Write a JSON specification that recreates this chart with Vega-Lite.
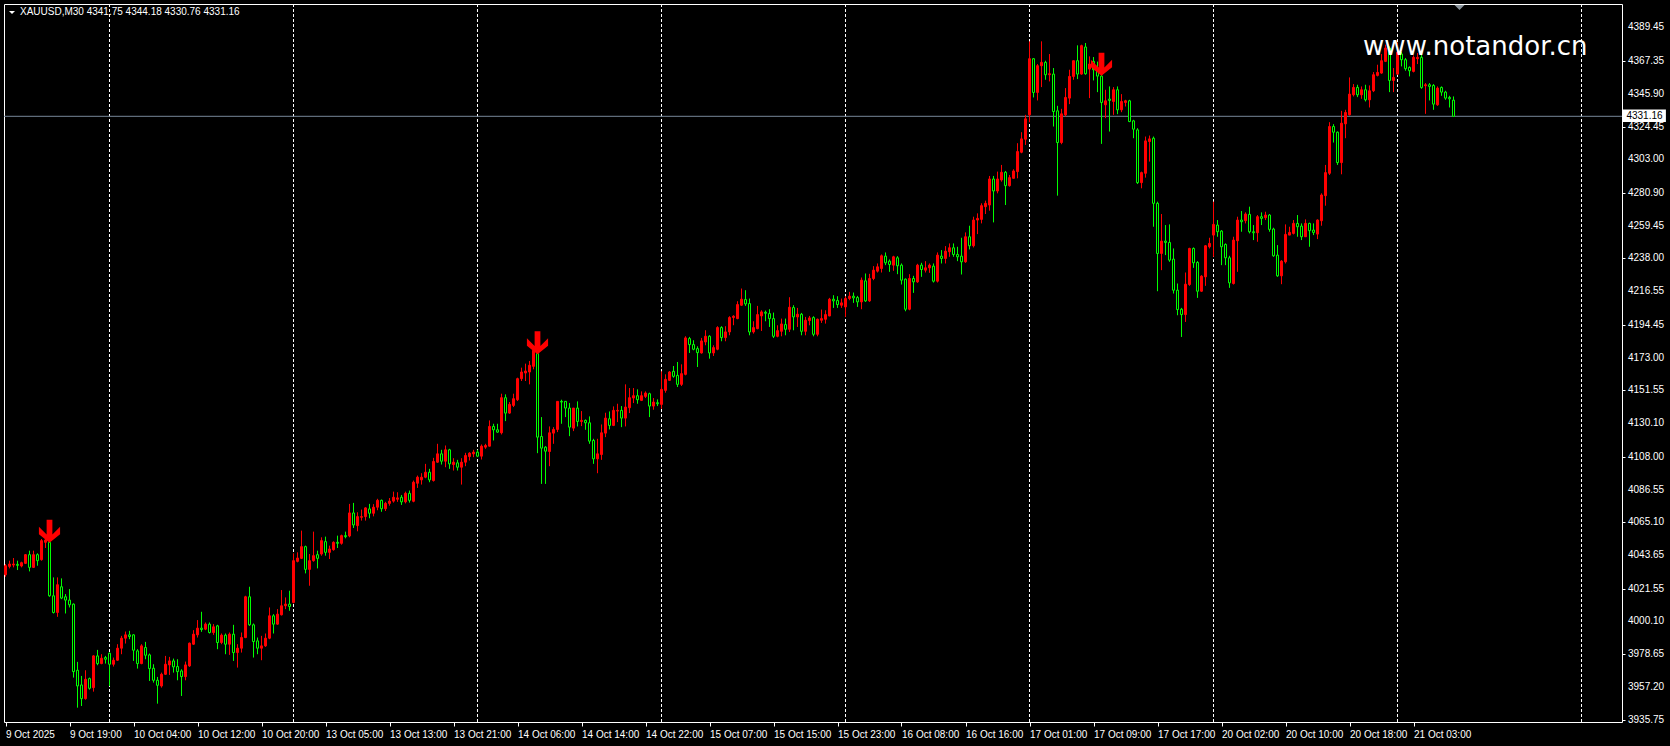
{
"$schema": "https://vega.github.io/schema/vega-lite/v6.json",
"width": 1618, "height": 718,
"autosize": {"type": "none"},
"padding": {"left": 4, "top": 4, "right": 48, "bottom": 24},
"background": "#000000",
"config": {
"view": {"stroke": "#ffffff", "strokeWidth": 1},
"scale": {"continuousPadding": 0},
"axis": {"labelColor": "#ffffff", "labelFont": "Liberation Sans", "labelFontSize": 10, "tickColor": "#ffffff", "domain": false, "grid": false,
"labelOverlap": false, "labelBound": false, "labelFlush": false, "title": null}
},
"datasets": {
"days": [{"d":26},{"d":72},{"d":118},{"d":164},{"d":210},{"d":256},{"d":302},{"d":348},{"d":394}],
"yt": [{"v":3935.75},{"v":3957.20},{"v":3978.65},{"v":4000.10},{"v":4021.55},{"v":4043.65},{"v":4065.10},{"v":4086.55},{"v":4108.00},{"v":4130.10},{"v":4151.55},{"v":4173.00},{"v":4194.45},{"v":4216.55},{"v":4238.00},{"v":4259.45},{"v":4280.90},{"v":4303.00},{"v":4324.45},{"v":4345.90},{"v":4367.35},{"v":4389.45}],
"sig": [{"i":11,"p":4059.2},{"i":133,"p":4182.7},{"i":274,"p":4365.2}],
"bars": [
{"i":0,"o":4030.75,"h":4037.76,"l":4029.44,"c":4036.66},
{"i":1,"o":4036.23,"h":4039.95,"l":4034.91,"c":4037.76},
{"i":2,"o":4037.10,"h":4041.70,"l":4035.57,"c":4037.76},
{"i":3,"o":4037.54,"h":4039.95,"l":4033.82,"c":4036.88},
{"i":4,"o":4036.45,"h":4039.29,"l":4035.57,"c":4038.63},
{"i":5,"o":4038.20,"h":4044.33,"l":4037.76,"c":4043.89},
{"i":6,"o":4043.89,"h":4046.51,"l":4032.94,"c":4035.57},
{"i":7,"o":4035.57,"h":4046.51,"l":4035.13,"c":4043.89},
{"i":8,"o":4043.89,"h":4044.76,"l":4036.66,"c":4039.95},
{"i":9,"o":4040.60,"h":4054.17,"l":4039.95,"c":4053.08},
{"i":10,"o":4051.99,"h":4054.61,"l":4048.27,"c":4053.52},
{"i":11,"o":4051.99,"h":4053.50,"l":4016.30,"c":4016.96},
{"i":12,"o":4016.96,"h":4029.00,"l":4005.36,"c":4006.02},
{"i":13,"o":4006.02,"h":4029.00,"l":4003.17,"c":4024.19},
{"i":14,"o":4022.87,"h":4028.35,"l":4014.77,"c":4015.43},
{"i":15,"o":4016.30,"h":4018.06,"l":4005.36,"c":4014.12},
{"i":16,"o":4014.12,"h":4021.34,"l":4009.30,"c":4011.05},
{"i":17,"o":4011.49,"h":4011.93,"l":3963.33,"c":3967.27},
{"i":18,"o":3968.15,"h":3973.62,"l":3943.63,"c":3957.86},
{"i":19,"o":3958.52,"h":3964.43,"l":3944.72,"c":3949.54},
{"i":20,"o":3949.54,"h":3968.15,"l":3948.88,"c":3962.24},
{"i":21,"o":3962.68,"h":3963.33,"l":3955.45,"c":3956.33},
{"i":22,"o":3956.77,"h":3978.00,"l":3954.14,"c":3977.56},
{"i":23,"o":3977.56,"h":3981.50,"l":3971.43,"c":3972.53},
{"i":24,"o":3972.53,"h":3978.66,"l":3972.09,"c":3976.03},
{"i":25,"o":3976.47,"h":3977.56,"l":3972.53,"c":3975.38},
{"i":26,"o":3979.31,"h":3979.75,"l":3957.86,"c":3972.09},
{"i":27,"o":3972.09,"h":3976.47,"l":3970.56,"c":3974.72},
{"i":28,"o":3974.72,"h":3985.22,"l":3974.28,"c":3982.60},
{"i":29,"o":3982.60,"h":3990.69,"l":3978.66,"c":3989.16},
{"i":30,"o":3989.16,"h":3993.54,"l":3985.66,"c":3991.35},
{"i":31,"o":3991.35,"h":3993.98,"l":3988.51,"c":3990.26},
{"i":32,"o":3991.35,"h":3991.79,"l":3974.28,"c":3981.28},
{"i":33,"o":3980.84,"h":3981.94,"l":3969.24,"c":3972.53},
{"i":34,"o":3972.53,"h":3985.22,"l":3972.09,"c":3984.13},
{"i":35,"o":3983.03,"h":3986.75,"l":3975.38,"c":3978.00},
{"i":36,"o":3978.22,"h":3979.09,"l":3961.14,"c":3969.24},
{"i":37,"o":3969.46,"h":3972.09,"l":3960.05,"c":3961.58},
{"i":38,"o":3961.58,"h":3963.77,"l":3946.26,"c":3958.30},
{"i":39,"o":3957.86,"h":3966.61,"l":3956.77,"c":3965.52},
{"i":40,"o":3965.52,"h":3977.56,"l":3965.08,"c":3972.09},
{"i":41,"o":3971.65,"h":3976.90,"l":3965.08,"c":3974.28},
{"i":42,"o":3974.28,"h":3975.81,"l":3966.61,"c":3970.34},
{"i":43,"o":3970.56,"h":3975.38,"l":3961.58,"c":3967.27},
{"i":44,"o":3967.71,"h":3968.80,"l":3951.29,"c":3963.99},
{"i":45,"o":3963.99,"h":3973.84,"l":3961.58,"c":3971.65},
{"i":46,"o":3971.00,"h":3986.32,"l":3970.34,"c":3985.88},
{"i":47,"o":3985.22,"h":3994.42,"l":3984.78,"c":3991.79},
{"i":48,"o":3991.35,"h":4001.02,"l":3989.60,"c":3995.73},
{"i":49,"o":3995.73,"h":4006.46,"l":3993.32,"c":3994.85},
{"i":50,"o":3995.07,"h":3999.45,"l":3994.42,"c":3998.36},
{"i":51,"o":3998.36,"h":3999.45,"l":3992.23,"c":3992.88},
{"i":52,"o":3992.88,"h":3998.36,"l":3991.35,"c":3996.60},
{"i":53,"o":3997.26,"h":3997.92,"l":3981.94,"c":3986.32},
{"i":54,"o":3986.32,"h":3992.23,"l":3985.22,"c":3991.13},
{"i":55,"o":3991.13,"h":3992.23,"l":3978.66,"c":3985.22},
{"i":56,"o":3985.22,"h":3992.88,"l":3978.22,"c":3991.79},
{"i":57,"o":3991.79,"h":3997.92,"l":3974.28,"c":3979.75},
{"i":58,"o":3979.75,"h":3985.22,"l":3969.90,"c":3982.60},
{"i":59,"o":3982.60,"h":3992.88,"l":3979.75,"c":3989.60},
{"i":60,"o":3989.60,"h":4016.96,"l":3989.16,"c":4016.30},
{"i":61,"o":4016.30,"h":4022.87,"l":3997.26,"c":3997.92},
{"i":62,"o":3997.92,"h":3998.79,"l":3976.47,"c":3986.97},
{"i":63,"o":3987.41,"h":3989.60,"l":3978.66,"c":3982.60},
{"i":64,"o":3982.60,"h":3990.69,"l":3974.72,"c":3984.13},
{"i":65,"o":3984.13,"h":3992.23,"l":3983.47,"c":3989.16},
{"i":66,"o":3989.16,"h":4009.30,"l":3988.51,"c":4003.83},
{"i":67,"o":4003.83,"h":4004.92,"l":3992.23,"c":3998.36},
{"i":68,"o":3998.36,"h":4008.21,"l":3997.92,"c":4004.92},
{"i":69,"o":4004.49,"h":4020.69,"l":4004.05,"c":4010.39},
{"i":70,"o":4010.39,"h":4015.87,"l":4008.21,"c":4011.49},
{"i":71,"o":4011.49,"h":4020.25,"l":4007.11,"c":4009.96},
{"i":72,"o":4012.58,"h":4044.76,"l":4011.93,"c":4039.95},
{"i":73,"o":4039.51,"h":4045.42,"l":4038.85,"c":4041.70},
{"i":74,"o":4041.48,"h":4059.65,"l":4041.04,"c":4049.14},
{"i":75,"o":4049.14,"h":4049.80,"l":4031.63,"c":4034.26},
{"i":76,"o":4034.26,"h":4044.33,"l":4023.53,"c":4039.95},
{"i":77,"o":4039.95,"h":4058.99,"l":4039.29,"c":4043.23},
{"i":78,"o":4043.89,"h":4046.51,"l":4034.91,"c":4041.48},
{"i":79,"o":4044.33,"h":4055.27,"l":4043.23,"c":4053.08},
{"i":80,"o":4052.43,"h":4055.71,"l":4043.23,"c":4045.42},
{"i":81,"o":4045.42,"h":4049.80,"l":4041.04,"c":4047.61},
{"i":82,"o":4047.17,"h":4052.64,"l":4046.51,"c":4051.99},
{"i":83,"o":4051.99,"h":4056.36,"l":4048.27,"c":4051.33},
{"i":84,"o":4051.33,"h":4057.02,"l":4050.45,"c":4056.36},
{"i":85,"o":4056.36,"h":4058.99,"l":4054.61,"c":4055.71},
{"i":86,"o":4056.15,"h":4077.16,"l":4055.27,"c":4071.25},
{"i":87,"o":4071.25,"h":4077.82,"l":4061.40,"c":4063.37},
{"i":88,"o":4062.93,"h":4071.69,"l":4059.21,"c":4068.84},
{"i":89,"o":4068.40,"h":4073.44,"l":4066.22,"c":4068.84},
{"i":90,"o":4068.84,"h":4074.97,"l":4066.22,"c":4074.53},
{"i":91,"o":4073.88,"h":4077.16,"l":4067.75,"c":4071.03},
{"i":92,"o":4071.03,"h":4077.00,"l":4069.00,"c":4075.00},
{"i":93,"o":4075.00,"h":4080.50,"l":4073.00,"c":4079.50},
{"i":94,"o":4079.50,"h":4080.00,"l":4072.00,"c":4074.00},
{"i":95,"o":4074.00,"h":4078.50,"l":4072.50,"c":4077.50},
{"i":96,"o":4077.50,"h":4081.00,"l":4076.00,"c":4079.00},
{"i":97,"o":4079.00,"h":4085.20,"l":4078.00,"c":4081.50},
{"i":98,"o":4080.20,"h":4084.80,"l":4078.50,"c":4081.10},
{"i":99,"o":4081.50,"h":4083.00,"l":4076.50,"c":4078.50},
{"i":100,"o":4078.50,"h":4085.20,"l":4077.50,"c":4084.10},
{"i":101,"o":4084.10,"h":4085.90,"l":4078.00,"c":4079.50},
{"i":102,"o":4078.89,"h":4092.46,"l":4078.23,"c":4091.36},
{"i":103,"o":4090.70,"h":4095.74,"l":4087.64,"c":4094.65},
{"i":104,"o":4092.90,"h":4097.27,"l":4089.83,"c":4094.65},
{"i":105,"o":4094.65,"h":4103.40,"l":4093.99,"c":4097.93},
{"i":106,"o":4097.93,"h":4100.12,"l":4091.36,"c":4092.90},
{"i":107,"o":4092.46,"h":4107.34,"l":4091.80,"c":4104.93},
{"i":108,"o":4104.50,"h":4116.54,"l":4104.06,"c":4109.97},
{"i":109,"o":4109.97,"h":4112.60,"l":4102.97,"c":4105.15},
{"i":110,"o":4105.15,"h":4115.44,"l":4101.21,"c":4112.60},
{"i":111,"o":4112.60,"h":4113.25,"l":4100.12,"c":4103.40},
{"i":112,"o":4102.97,"h":4107.12,"l":4099.02,"c":4104.50},
{"i":113,"o":4104.06,"h":4106.03,"l":4099.02,"c":4101.21},
{"i":114,"o":4101.21,"h":4107.12,"l":4089.83,"c":4104.50},
{"i":115,"o":4104.50,"h":4110.63,"l":4101.87,"c":4108.88},
{"i":116,"o":4108.22,"h":4111.07,"l":4105.59,"c":4110.41},
{"i":117,"o":4109.97,"h":4112.60,"l":4107.78,"c":4111.07},
{"i":118,"o":4111.07,"h":4112.60,"l":4107.78,"c":4108.44},
{"i":119,"o":4108.44,"h":4116.10,"l":4106.25,"c":4115.00},
{"i":120,"o":4114.35,"h":4116.54,"l":4113.25,"c":4115.44},
{"i":121,"o":4115.00,"h":4131.86,"l":4114.78,"c":4127.92},
{"i":122,"o":4127.92,"h":4129.67,"l":4118.73,"c":4125.73},
{"i":123,"o":4125.73,"h":4129.67,"l":4123.76,"c":4124.20},
{"i":124,"o":4123.76,"h":4149.37,"l":4122.67,"c":4146.75},
{"i":125,"o":4146.75,"h":4148.94,"l":4131.42,"c":4136.67},
{"i":126,"o":4136.67,"h":4143.90,"l":4136.24,"c":4142.37},
{"i":127,"o":4141.71,"h":4149.37,"l":4140.62,"c":4146.09},
{"i":128,"o":4145.43,"h":4159.88,"l":4144.56,"c":4159.22},
{"i":129,"o":4159.22,"h":4166.45,"l":4157.69,"c":4163.60},
{"i":130,"o":4162.94,"h":4169.07,"l":4157.69,"c":4164.26},
{"i":131,"o":4163.60,"h":4170.82,"l":4155.50,"c":4167.98},
{"i":132,"o":4167.32,"h":4178.92,"l":4165.35,"c":4177.83},
{"i":133,"o":4175.64,"h":4177.83,"l":4110.41,"c":4120.91},
{"i":134,"o":4121.35,"h":4134.05,"l":4090.27,"c":4113.69},
{"i":135,"o":4114.35,"h":4115.00,"l":4090.27,"c":4111.72},
{"i":136,"o":4111.50,"h":4127.92,"l":4101.87,"c":4123.76},
{"i":137,"o":4123.54,"h":4127.48,"l":4116.54,"c":4125.95},
{"i":138,"o":4125.95,"h":4144.34,"l":4124.20,"c":4144.34},
{"i":139,"o":4144.34,"h":4145.43,"l":4129.67,"c":4143.90},
{"i":140,"o":4144.34,"h":4144.34,"l":4134.05,"c":4139.96},
{"i":141,"o":4139.96,"h":4143.24,"l":4121.57,"c":4127.48},
{"i":142,"o":4126.83,"h":4139.96,"l":4124.86,"c":4139.96},
{"i":143,"o":4139.96,"h":4144.34,"l":4127.92,"c":4131.20},
{"i":144,"o":4131.20,"h":4137.99,"l":4128.14,"c":4131.86},
{"i":145,"o":4131.86,"h":4132.52,"l":4125.73,"c":4130.33},
{"i":146,"o":4130.33,"h":4134.49,"l":4116.54,"c":4118.29},
{"i":147,"o":4118.73,"h":4119.82,"l":4103.40,"c":4106.69},
{"i":148,"o":4106.69,"h":4119.82,"l":4097.27,"c":4109.97},
{"i":149,"o":4109.53,"h":4129.23,"l":4106.03,"c":4123.76},
{"i":150,"o":4123.54,"h":4136.89,"l":4120.91,"c":4133.39},
{"i":151,"o":4132.95,"h":4137.77,"l":4125.95,"c":4128.58},
{"i":152,"o":4128.58,"h":4141.05,"l":4128.14,"c":4138.43},
{"i":153,"o":4137.99,"h":4142.80,"l":4130.77,"c":4138.43},
{"i":154,"o":4138.43,"h":4141.27,"l":4127.48,"c":4133.39},
{"i":155,"o":4133.39,"h":4155.50,"l":4127.92,"c":4140.62},
{"i":156,"o":4140.18,"h":4153.09,"l":4136.67,"c":4146.75},
{"i":157,"o":4146.53,"h":4153.09,"l":4143.24,"c":4148.06},
{"i":158,"o":4148.06,"h":4152.22,"l":4142.80,"c":4145.43},
{"i":159,"o":4145.00,"h":4150.90,"l":4144.56,"c":4148.06},
{"i":160,"o":4147.62,"h":4150.90,"l":4146.53,"c":4149.81},
{"i":161,"o":4149.37,"h":4150.03,"l":4134.05,"c":4141.27},
{"i":162,"o":4141.27,"h":4146.53,"l":4138.87,"c":4143.90},
{"i":163,"o":4143.46,"h":4145.65,"l":4141.27,"c":4142.80},
{"i":164,"o":4142.37,"h":4164.04,"l":4139.52,"c":4152.22},
{"i":165,"o":4151.56,"h":4162.07,"l":4150.03,"c":4158.78},
{"i":166,"o":4158.13,"h":4164.26,"l":4157.69,"c":4163.60},
{"i":167,"o":4164.04,"h":4167.54,"l":4159.88,"c":4160.76},
{"i":168,"o":4161.41,"h":4170.17,"l":4153.75,"c":4155.50},
{"i":169,"o":4155.50,"h":4168.63,"l":4154.41,"c":4162.51},
{"i":170,"o":4162.07,"h":4187.02,"l":4161.41,"c":4185.93},
{"i":171,"o":4185.49,"h":4186.58,"l":4176.08,"c":4181.55},
{"i":172,"o":4181.55,"h":4184.40,"l":4177.83,"c":4178.49},
{"i":173,"o":4178.92,"h":4180.45,"l":4166.88,"c":4176.30},
{"i":174,"o":4176.08,"h":4185.93,"l":4175.64,"c":4183.96},
{"i":175,"o":4183.30,"h":4190.96,"l":4181.11,"c":4187.02},
{"i":176,"o":4187.02,"h":4187.68,"l":4172.35,"c":4176.08},
{"i":177,"o":4176.08,"h":4181.11,"l":4174.11,"c":4179.58},
{"i":178,"o":4178.49,"h":4193.59,"l":4177.83,"c":4192.71},
{"i":179,"o":4192.71,"h":4193.59,"l":4183.74,"c":4186.15},
{"i":180,"o":4186.15,"h":4193.59,"l":4183.74,"c":4189.87},
{"i":181,"o":4189.87,"h":4200.16,"l":4187.68,"c":4199.28},
{"i":182,"o":4199.28,"h":4200.81,"l":4194.25,"c":4200.16},
{"i":183,"o":4198.59,"h":4209.98,"l":4198.16,"c":4207.79},
{"i":184,"o":4207.35,"h":4218.30,"l":4206.91,"c":4211.29},
{"i":185,"o":4211.07,"h":4217.20,"l":4206.91,"c":4208.23},
{"i":186,"o":4208.45,"h":4211.73,"l":4187.65,"c":4189.84},
{"i":187,"o":4189.84,"h":4196.84,"l":4188.75,"c":4192.69},
{"i":188,"o":4192.03,"h":4206.91,"l":4191.59,"c":4201.22},
{"i":189,"o":4200.34,"h":4204.07,"l":4190.50,"c":4202.97},
{"i":190,"o":4202.75,"h":4203.85,"l":4196.84,"c":4202.10},
{"i":191,"o":4201.88,"h":4204.73,"l":4193.12,"c":4198.59},
{"i":192,"o":4198.59,"h":4202.53,"l":4185.90,"c":4186.99},
{"i":193,"o":4186.99,"h":4194.22,"l":4186.33,"c":4190.71},
{"i":194,"o":4190.28,"h":4198.59,"l":4186.99,"c":4195.09},
{"i":195,"o":4194.65,"h":4198.59,"l":4187.65,"c":4191.59},
{"i":196,"o":4191.59,"h":4212.60,"l":4189.84,"c":4206.04},
{"i":197,"o":4205.82,"h":4207.35,"l":4190.93,"c":4199.69},
{"i":198,"o":4199.69,"h":4205.60,"l":4193.12,"c":4201.44},
{"i":199,"o":4201.44,"h":4202.31,"l":4187.65,"c":4190.28},
{"i":200,"o":4190.28,"h":4199.69,"l":4187.65,"c":4197.50},
{"i":201,"o":4197.28,"h":4200.34,"l":4194.22,"c":4199.03},
{"i":202,"o":4199.25,"h":4200.12,"l":4186.99,"c":4188.31},
{"i":203,"o":4188.31,"h":4198.59,"l":4186.99,"c":4198.16},
{"i":204,"o":4197.50,"h":4204.51,"l":4195.75,"c":4198.59},
{"i":205,"o":4198.16,"h":4204.07,"l":4195.31,"c":4201.22},
{"i":206,"o":4200.34,"h":4212.17,"l":4200.12,"c":4211.29},
{"i":207,"o":4211.29,"h":4213.92,"l":4205.60,"c":4210.20},
{"i":208,"o":4210.42,"h":4213.26,"l":4205.60,"c":4207.79},
{"i":209,"o":4207.35,"h":4211.73,"l":4205.60,"c":4208.89},
{"i":210,"o":4206.26,"h":4213.26,"l":4199.69,"c":4211.73},
{"i":211,"o":4211.73,"h":4216.11,"l":4210.63,"c":4213.26},
{"i":212,"o":4213.26,"h":4215.67,"l":4208.89,"c":4212.17},
{"i":213,"o":4212.39,"h":4213.48,"l":4206.26,"c":4209.54},
{"i":214,"o":4209.54,"h":4225.52,"l":4204.73,"c":4223.77},
{"i":215,"o":4223.33,"h":4228.15,"l":4209.54,"c":4210.20},
{"i":216,"o":4210.20,"h":4227.93,"l":4209.54,"c":4224.86},
{"i":217,"o":4224.86,"h":4232.96,"l":4223.77,"c":4230.33},
{"i":218,"o":4229.68,"h":4234.71,"l":4228.80,"c":4232.52},
{"i":219,"o":4231.43,"h":4240.62,"l":4228.80,"c":4239.75},
{"i":220,"o":4239.53,"h":4241.94,"l":4233.62,"c":4235.15},
{"i":221,"o":4236.24,"h":4237.34,"l":4229.24,"c":4234.06},
{"i":222,"o":4233.62,"h":4239.75,"l":4229.90,"c":4239.09},
{"i":223,"o":4238.43,"h":4239.53,"l":4227.71,"c":4233.19},
{"i":224,"o":4233.62,"h":4234.71,"l":4220.92,"c":4223.77},
{"i":225,"o":4224.43,"h":4224.86,"l":4203.41,"c":4204.73},
{"i":226,"o":4204.73,"h":4227.71,"l":4204.07,"c":4224.86},
{"i":227,"o":4224.86,"h":4226.61,"l":4215.45,"c":4222.67},
{"i":228,"o":4222.67,"h":4234.49,"l":4222.01,"c":4233.62},
{"i":229,"o":4233.62,"h":4235.15,"l":4225.96,"c":4230.77},
{"i":230,"o":4230.33,"h":4236.24,"l":4228.80,"c":4231.87},
{"i":231,"o":4231.87,"h":4234.71,"l":4228.58,"c":4233.62},
{"i":232,"o":4232.96,"h":4234.71,"l":4222.24,"c":4223.11},
{"i":233,"o":4223.11,"h":4241.94,"l":4222.24,"c":4240.19},
{"i":234,"o":4239.53,"h":4243.47,"l":4234.71,"c":4238.00},
{"i":235,"o":4238.00,"h":4246.10,"l":4234.71,"c":4242.81},
{"i":236,"o":4242.37,"h":4247.85,"l":4239.09,"c":4245.00},
{"i":237,"o":4245.00,"h":4247.85,"l":4239.09,"c":4240.62},
{"i":238,"o":4240.62,"h":4245.66,"l":4236.24,"c":4239.09},
{"i":239,"o":4239.53,"h":4251.57,"l":4227.49,"c":4235.81},
{"i":240,"o":4235.81,"h":4255.07,"l":4235.15,"c":4252.22},
{"i":241,"o":4252.22,"h":4259.45,"l":4243.91,"c":4246.32},
{"i":242,"o":4246.32,"h":4265.36,"l":4245.22,"c":4263.17},
{"i":243,"o":4263.17,"h":4267.55,"l":4253.97,"c":4264.26},
{"i":244,"o":4263.61,"h":4274.12,"l":4260.98,"c":4272.58},
{"i":245,"o":4271.93,"h":4275.87,"l":4267.11,"c":4274.12},
{"i":246,"o":4273.02,"h":4292.06,"l":4269.30,"c":4290.09},
{"i":247,"o":4290.09,"h":4292.06,"l":4261.64,"c":4282.21},
{"i":248,"o":4282.21,"h":4294.91,"l":4280.68,"c":4290.09},
{"i":249,"o":4289.44,"h":4299.29,"l":4288.34,"c":4294.47},
{"i":250,"o":4294.47,"h":4295.35,"l":4273.02,"c":4285.72},
{"i":251,"o":4285.72,"h":4292.72,"l":4285.06,"c":4290.97},
{"i":252,"o":4290.53,"h":4296.44,"l":4290.53,"c":4295.35},
{"i":253,"o":4294.91,"h":4313.52,"l":4290.53,"c":4308.05},
{"i":254,"o":4307.61,"h":4320.74,"l":4306.95,"c":4316.36},
{"i":255,"o":4316.14,"h":4332.12,"l":4312.42,"c":4329.50},
{"i":256,"o":4332.12,"h":4380.28,"l":4327.31,"c":4368.90},
{"i":257,"o":4368.90,"h":4369.34,"l":4343.51,"c":4346.79},
{"i":258,"o":4346.79,"h":4365.40,"l":4341.54,"c":4364.30},
{"i":259,"o":4364.30,"h":4380.28,"l":4350.29,"c":4366.49},
{"i":260,"o":4366.49,"h":4367.59,"l":4355.11,"c":4358.39},
{"i":261,"o":4358.39,"h":4371.96,"l":4354.01,"c":4359.05},
{"i":262,"o":4358.83,"h":4362.77,"l":4324.46,"c":4334.31},
{"i":263,"o":4334.75,"h":4338.03,"l":4279.15,"c":4313.96},
{"i":264,"o":4313.96,"h":4336.06,"l":4312.86,"c":4332.78},
{"i":265,"o":4332.12,"h":4349.64,"l":4331.03,"c":4343.51},
{"i":266,"o":4343.07,"h":4361.68,"l":4339.13,"c":4357.30},
{"i":267,"o":4357.30,"h":4367.59,"l":4355.11,"c":4367.59},
{"i":268,"o":4367.59,"h":4377.66,"l":4355.55,"c":4358.83},
{"i":269,"o":4358.83,"h":4378.09,"l":4358.39,"c":4377.44},
{"i":270,"o":4376.56,"h":4379.19,"l":4358.39,"c":4359.05},
{"i":271,"o":4362.11,"h":4370.43,"l":4343.07,"c":4365.40},
{"i":272,"o":4367.15,"h":4369.99,"l":4354.67,"c":4361.68},
{"i":273,"o":4362.00,"h":4367.00,"l":4347.00,"c":4357.50},
{"i":274,"o":4357.50,"h":4358.40,"l":4313.08,"c":4340.22},
{"i":275,"o":4338.69,"h":4348.54,"l":4329.94,"c":4341.32},
{"i":276,"o":4342.41,"h":4350.73,"l":4321.18,"c":4341.54},
{"i":277,"o":4340.88,"h":4350.29,"l":4332.12,"c":4348.54},
{"i":278,"o":4348.54,"h":4350.73,"l":4332.56,"c":4335.41},
{"i":279,"o":4335.41,"h":4345.70,"l":4333.87,"c":4340.88},
{"i":280,"o":4340.22,"h":4341.97,"l":4337.60,"c":4341.32},
{"i":281,"o":4341.32,"h":4341.97,"l":4327.31,"c":4327.75},
{"i":282,"o":4328.18,"h":4328.84,"l":4316.80,"c":4322.71},
{"i":283,"o":4322.27,"h":4323.37,"l":4286.81,"c":4287.69},
{"i":284,"o":4287.69,"h":4294.91,"l":4283.97,"c":4294.25},
{"i":285,"o":4293.82,"h":4317.90,"l":4290.97,"c":4315.05},
{"i":286,"o":4314.61,"h":4318.55,"l":4301.48,"c":4316.36},
{"i":287,"o":4316.80,"h":4317.90,"l":4258.79,"c":4274.12},
{"i":288,"o":4274.12,"h":4275.21,"l":4216.54,"c":4241.28},
{"i":289,"o":4241.28,"h":4267.11,"l":4230.34,"c":4249.38},
{"i":290,"o":4249.38,"h":4259.89,"l":4240.19,"c":4248.50},
{"i":291,"o":4248.50,"h":4260.32,"l":4235.81,"c":4236.90},
{"i":292,"o":4237.56,"h":4244.56,"l":4215.01,"c":4217.20},
{"i":293,"o":4217.20,"h":4221.58,"l":4200.79,"c":4204.51},
{"i":294,"o":4204.73,"h":4205.60,"l":4186.56,"c":4201.22},
{"i":295,"o":4201.22,"h":4228.80,"l":4196.41,"c":4221.14},
{"i":296,"o":4220.92,"h":4245.00,"l":4220.05,"c":4244.56},
{"i":297,"o":4244.56,"h":4245.22,"l":4231.87,"c":4235.15},
{"i":298,"o":4235.37,"h":4236.24,"l":4212.17,"c":4216.54},
{"i":299,"o":4216.54,"h":4227.05,"l":4216.11,"c":4226.39},
{"i":300,"o":4225.96,"h":4246.75,"l":4220.05,"c":4246.32},
{"i":301,"o":4245.66,"h":4251.57,"l":4244.56,"c":4247.85},
{"i":302,"o":4253.32,"h":4275.21,"l":4239.09,"c":4260.32},
{"i":303,"o":4259.89,"h":4263.17,"l":4252.22,"c":4255.51},
{"i":304,"o":4255.95,"h":4256.60,"l":4233.62,"c":4245.66},
{"i":305,"o":4247.19,"h":4247.85,"l":4233.62,"c":4238.43},
{"i":306,"o":4238.43,"h":4239.75,"l":4218.73,"c":4222.01},
{"i":307,"o":4221.58,"h":4252.22,"l":4220.92,"c":4250.04},
{"i":308,"o":4249.60,"h":4265.36,"l":4229.24,"c":4263.17},
{"i":309,"o":4263.17,"h":4269.08,"l":4255.51,"c":4262.08},
{"i":310,"o":4262.73,"h":4268.21,"l":4260.98,"c":4267.11},
{"i":311,"o":4266.89,"h":4271.93,"l":4254.42,"c":4255.51},
{"i":312,"o":4255.51,"h":4259.89,"l":4250.04,"c":4254.85},
{"i":313,"o":4254.85,"h":4266.45,"l":4248.94,"c":4265.36},
{"i":314,"o":4265.36,"h":4268.21,"l":4259.89,"c":4264.26},
{"i":315,"o":4264.70,"h":4268.64,"l":4263.17,"c":4266.45},
{"i":316,"o":4266.45,"h":4267.11,"l":4255.51,"c":4257.04},
{"i":317,"o":4257.26,"h":4258.13,"l":4239.09,"c":4239.75},
{"i":318,"o":4240.19,"h":4246.75,"l":4225.96,"c":4226.61},
{"i":319,"o":4226.61,"h":4236.90,"l":4221.14,"c":4236.24},
{"i":320,"o":4235.81,"h":4260.32,"l":4234.71,"c":4253.76},
{"i":321,"o":4253.32,"h":4258.79,"l":4253.32,"c":4255.07},
{"i":322,"o":4254.42,"h":4263.17,"l":4253.76,"c":4260.98},
{"i":323,"o":4260.98,"h":4266.45,"l":4252.22,"c":4258.79},
{"i":324,"o":4259.23,"h":4260.98,"l":4250.04,"c":4252.22},
{"i":325,"o":4252.22,"h":4263.61,"l":4252.22,"c":4260.98},
{"i":326,"o":4260.98,"h":4261.42,"l":4245.66,"c":4256.17},
{"i":327,"o":4256.60,"h":4260.98,"l":4253.32,"c":4255.07},
{"i":328,"o":4253.97,"h":4263.61,"l":4250.69,"c":4263.17},
{"i":329,"o":4262.73,"h":4280.68,"l":4259.45,"c":4279.59},
{"i":330,"o":4279.15,"h":4299.29,"l":4272.58,"c":4294.25},
{"i":331,"o":4293.82,"h":4327.31,"l":4292.72,"c":4324.46},
{"i":332,"o":4324.46,"h":4326.00,"l":4313.96,"c":4320.74},
{"i":333,"o":4320.74,"h":4321.18,"l":4299.29,"c":4300.82},
{"i":334,"o":4300.82,"h":4334.75,"l":4293.16,"c":4326.65},
{"i":335,"o":4326.21,"h":4335.41,"l":4316.80,"c":4333.66},
{"i":336,"o":4332.12,"h":4356.64,"l":4331.69,"c":4345.70},
{"i":337,"o":4345.26,"h":4352.26,"l":4344.16,"c":4350.07},
{"i":338,"o":4350.07,"h":4351.83,"l":4343.73,"c":4345.26},
{"i":339,"o":4345.26,"h":4350.73,"l":4342.63,"c":4348.54},
{"i":340,"o":4348.54,"h":4351.83,"l":4340.88,"c":4341.97},
{"i":341,"o":4341.97,"h":4351.39,"l":4336.94,"c":4347.88},
{"i":342,"o":4347.88,"h":4360.14,"l":4347.01,"c":4358.39},
{"i":343,"o":4357.95,"h":4364.96,"l":4357.30,"c":4359.92},
{"i":344,"o":4359.49,"h":4371.96,"l":4359.05,"c":4367.59},
{"i":345,"o":4367.15,"h":4378.09,"l":4366.71,"c":4375.90},
{"i":346,"o":4375.90,"h":4377.00,"l":4347.01,"c":4354.67},
{"i":347,"o":4354.67,"h":4362.77,"l":4347.01,"c":4356.64},
{"i":348,"o":4358.80,"h":4379.50,"l":4358.40,"c":4373.00},
{"i":349,"o":4371.96,"h":4373.28,"l":4363.86,"c":4368.24},
{"i":350,"o":4368.24,"h":4369.34,"l":4361.02,"c":4362.33},
{"i":351,"o":4363.21,"h":4363.86,"l":4357.30,"c":4361.02},
{"i":352,"o":4360.58,"h":4371.09,"l":4359.92,"c":4369.77},
{"i":353,"o":4368.90,"h":4372.62,"l":4365.40,"c":4369.77},
{"i":354,"o":4369.77,"h":4373.28,"l":4349.20,"c":4350.07},
{"i":355,"o":4351.17,"h":4352.92,"l":4332.78,"c":4351.83},
{"i":356,"o":4351.83,"h":4352.92,"l":4341.54,"c":4350.73},
{"i":357,"o":4351.39,"h":4352.26,"l":4335.41,"c":4339.13},
{"i":358,"o":4338.69,"h":4350.73,"l":4338.03,"c":4349.64},
{"i":359,"o":4350.07,"h":4350.73,"l":4344.60,"c":4347.01},
{"i":360,"o":4347.01,"h":4347.88,"l":4341.97,"c":4343.07},
{"i":361,"o":4343.51,"h":4344.60,"l":4336.94,"c":4342.63},
{"i":362,"o":4341.75,"h":4344.18,"l":4330.76,"c":4331.16}
]
},
"layer": [
{
"data": {"name": "days"},
"mark": {"type": "rule", "color": "#ffffff", "strokeWidth": 1, "strokeDash": [3, 2]},
"encoding": {
"x": {"field": "d", "type": "quantitative", "title": null,
"scale": {"domain": [-0.375, 404.125], "nice": false, "zero": false, "padding": 0},
"axis": {"values": [0,16,32,48,64,80,96,112,128,144,160,176,192,208,224,240,256,272,288,304,320,336,352],
"labelExpr": "['9 Oct 2025','9 Oct 19:00','10 Oct 04:00','10 Oct 12:00','10 Oct 20:00','13 Oct 05:00','13 Oct 13:00','13 Oct 21:00','14 Oct 06:00','14 Oct 14:00','14 Oct 22:00','15 Oct 07:00','15 Oct 15:00','15 Oct 23:00','16 Oct 08:00','16 Oct 16:00','17 Oct 01:00','17 Oct 09:00','17 Oct 17:00','20 Oct 02:00','20 Oct 10:00','20 Oct 18:00','21 Oct 03:00'][round(datum.value/16)]",
"labelAlign": "left", "labelBaseline": "top", "labelPadding": 3, "tickSize": 4, "labelOverlap": false}}
}
},
{
"data": {"values": [{}]},
"mark": {"type": "rule", "color": "#778899", "strokeWidth": 1},
"encoding": {
"y": {"datum": 4331.16, "type": "quantitative", "title": null,
"scale": {"domain": [3934.24, 4404.75], "nice": false, "zero": false, "padding": 0},
"axis": {"orient": "right", "values": [3935.75,3957.20,3978.65,4000.10,4021.55,4043.65,4065.10,4086.55,4108.00,4130.10,4151.55,4173.00,4194.45,4216.55,4238.00,4259.45,4280.90,4303.00,4324.45,4345.90,4367.35,4389.45],
"labels": false, "tickSize": 3}}
}
},
{
"data": {"name": "bars"},
"mark": {"type": "rule", "strokeWidth": 1},
"encoding": {
"x": {"field": "i", "type": "quantitative", "title": null, "scale": {"domain": [-0.375, 404.125], "nice": false, "zero": false, "padding": 0}},
"y": {"field": "l", "type": "quantitative", "title": null, "scale": {"domain": [3934.24, 4404.75], "nice": false, "zero": false, "padding": 0}},
"y2": {"field": "h"},
"stroke": {"condition": {"test": "datum.c >= datum.o", "value": "#ff0000"}, "value": "#00ff00"}
}
},
{
"data": {"name": "bars"},
"mark": {"type": "bar", "width": 2, "strokeWidth": 1},
"encoding": {
"x": {"field": "i", "type": "quantitative", "title": null, "scale": {"domain": [-0.375, 404.125], "nice": false, "zero": false, "padding": 0}},
"y": {"field": "o", "type": "quantitative", "title": null, "scale": {"domain": [3934.24, 4404.75], "nice": false, "zero": false, "padding": 0}},
"y2": {"field": "c"},
"fill": {"condition": {"test": "datum.c >= datum.o", "value": "#ff0000"}, "value": "#000000"},
"stroke": {"condition": {"test": "datum.c >= datum.o", "value": "#ff0000"}, "value": "#00ff00"}
}
},
{
"data": {"name": "sig"},
"mark": {"type": "point", "shape": "M -0.25 -1 L 0.25 -1 L 0.25 0.28 L 0.92 -0.4 L 0.92 0.25 L 0 1 L -0.92 0.25 L -0.92 -0.4 L -0.25 0.28 Z", "filled": true, "color": "#ff0000", "opacity": 1, "size": 529},
"encoding": {
"x": {"field": "i", "type": "quantitative", "title": null, "scale": {"domain": [-0.375, 404.125], "nice": false, "zero": false, "padding": 0}},
"y": {"field": "p", "type": "quantitative", "title": null, "scale": {"domain": [3934.24, 4404.75], "nice": false, "zero": false, "padding": 0}}
}
},
{
"data": {"values": [{"t": "www.notandor.cn"}]},
"mark": {"type": "text", "font": "DejaVu Sans", "fontSize": 26, "color": "#ffffff", "align": "left", "baseline": "alphabetic"},
"encoding": {
"x": {"datum": 339.4, "type": "quantitative", "scale": {"domain": [-0.375, 404.125], "nice": false, "zero": false, "padding": 0}},
"y": {"datum": 4371.33, "type": "quantitative", "scale": {"domain": [3934.24, 4404.75], "nice": false, "zero": false, "padding": 0}},
"text": {"field": "t"}
}
},
{
"data": {"values": [{"t": "XAUUSD,M30  4341.75 4344.18 4330.76 4331.16"}]},
"mark": {"type": "text", "font": "Liberation Sans", "fontSize": 10, "color": "#ffffff", "align": "left", "baseline": "middle"},
"encoding": {
"x": {"datum": 3.625, "type": "quantitative", "scale": {"domain": [-0.375, 404.125], "nice": false, "zero": false, "padding": 0}},
"y": {"datum": 4399.18, "type": "quantitative", "scale": {"domain": [3934.24, 4404.75], "nice": false, "zero": false, "padding": 0}},
"text": {"field": "t"}
}
},
{
"data": {"values": [{}]},
"mark": {"type": "point", "shape": "M -1 -0.5 L 1 -0.5 L 0 0.5 Z", "filled": true, "color": "#ffffff", "opacity": 1, "size": 36},
"encoding": {
"x": {"datum": 1.625, "type": "quantitative", "scale": {"domain": [-0.375, 404.125], "nice": false, "zero": false, "padding": 0}},
"y": {"datum": 4399.18, "type": "quantitative", "scale": {"domain": [3934.24, 4404.75], "nice": false, "zero": false, "padding": 0}}
}
},
{
"data": {"values": [{}]},
"mark": {"type": "point", "shape": "M -1 -0.5 L 1 -0.5 L 0 0.5 Z", "filled": true, "color": "#8a949c", "opacity": 1, "size": 100},
"encoding": {
"x": {"datum": 363.5, "type": "quantitative", "scale": {"domain": [-0.375, 404.125], "nice": false, "zero": false, "padding": 0}},
"y": {"datum": 4402.4, "type": "quantitative", "scale": {"domain": [3934.24, 4404.75], "nice": false, "zero": false, "padding": 0}}
}
},
{
"data": {"name": "yt"},
"mark": {"type": "text", "font": "Liberation Sans", "fontSize": 10, "color": "#ffffff", "align": "left", "baseline": "middle", "clip": false},
"encoding": {
"x": {"datum": 405.625, "type": "quantitative", "scale": {"domain": [-0.375, 404.125], "nice": false, "zero": false, "padding": 0}},
"y": {"field": "v", "type": "quantitative", "scale": {"domain": [3934.24, 4404.75], "nice": false, "zero": false, "padding": 0}},
"text": {"field": "v", "type": "quantitative", "format": ".2f"}
}
},
{
"data": {"values": [{}]},
"mark": {"type": "rect", "color": "#ffffff", "clip": false},
"encoding": {
"x": {"datum": 404.375, "type": "quantitative", "scale": {"domain": [-0.375, 404.125], "nice": false, "zero": false, "padding": 0}},
"x2": {"datum": 415.1},
"y": {"datum": 4335.62, "type": "quantitative", "scale": {"domain": [3934.24, 4404.75], "nice": false, "zero": false, "padding": 0}},
"y2": {"datum": 4327.43}
}
},
{
"data": {"values": [{"t": "4331.16"}]},
"mark": {"type": "text", "font": "Liberation Sans", "fontSize": 10, "color": "#000000", "align": "center", "baseline": "middle", "clip": false},
"encoding": {
"x": {"datum": 409.75, "type": "quantitative", "scale": {"domain": [-0.375, 404.125], "nice": false, "zero": false, "padding": 0}},
"y": {"datum": 4331.5, "type": "quantitative", "scale": {"domain": [3934.24, 4404.75], "nice": false, "zero": false, "padding": 0}},
"text": {"field": "t"}
}
}
]
}
